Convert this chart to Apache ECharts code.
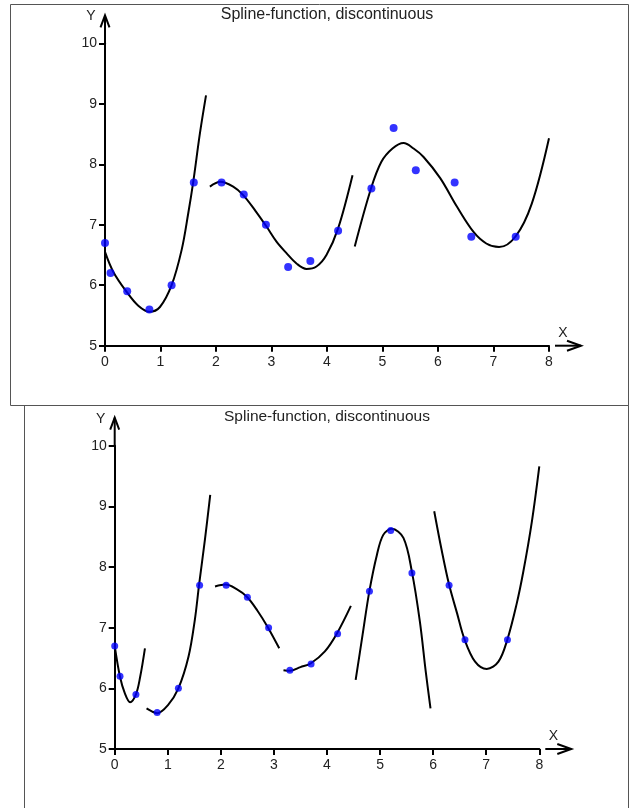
<!DOCTYPE html>
<html>
<head>
<meta charset="utf-8">
<script src="https://cdn.jsdelivr.net/npm/echarts@6/dist/echarts.min.js"></script>
<style>
html,body{margin:0;padding:0;background:#fff;}
#chart{width:630px;height:808px;}
</style>
</head>
<body>
<div id="chart"></div>
<script>
// ---- data ----
const titleText = 'Spline-function, discontinuous';
const xTicks = [0, 1, 2, 3, 4, 5, 6, 7, 8];
const yTicks = [5, 6, 7, 8, 9, 10];
const xName = 'X';
const yName = 'Y';

const pointX = [0, 0.1, 0.4, 0.8, 1.2, 1.6, 2.1, 2.5, 2.9, 3.3, 3.7, 4.2, 4.8, 5.2, 5.6, 6.3, 6.6, 7.4];
const pointY = [6.7, 6.2, 5.9, 5.6, 6.0, 7.7, 7.7, 7.5, 7.0, 6.3, 6.4, 6.9, 7.6, 8.6, 7.9, 7.7, 6.8, 6.8];

// top panel spline pieces
const top1X = [0, 0.15, 0.39, 0.6, 0.8, 0.99, 1.2, 1.38, 1.5, 1.59, 1.71, 1.82];
const top1Y = [6.55, 6.22, 5.89, 5.66, 5.56, 5.64, 6.0, 6.58, 7.19, 7.71, 8.51, 9.14];
const top2X = [1.89, 2.08, 2.31, 2.49, 2.71, 2.91, 3.09, 3.27, 3.45, 3.63, 3.81, 3.99, 4.2, 4.46];
const top2Y = [7.63, 7.71, 7.63, 7.49, 7.23, 6.97, 6.72, 6.53, 6.36, 6.27, 6.31, 6.50, 6.94, 7.82];
const top3X = [4.5, 4.79, 4.98, 5.18, 5.38, 5.56, 5.74, 6.04, 6.34, 6.64, 6.87, 7.1, 7.4, 7.69, 8.0];
const top3Y = [6.64, 7.59, 8.04, 8.26, 8.35, 8.26, 8.12, 7.77, 7.30, 6.88, 6.69, 6.63, 6.81, 7.35, 8.43];

// bottom panel spline pieces
const botAX = [0, 0.1, 0.19, 0.29, 0.4, 0.48, 0.57];
const botAY = [6.70, 6.19, 5.92, 5.77, 5.90, 6.19, 6.66];
const botBX = [0.6, 0.7, 0.8, 1.0, 1.2, 1.39, 1.51, 1.59, 1.70, 1.80];
const botBY = [5.67, 5.62, 5.59, 5.72, 6.0, 6.52, 7.13, 7.71, 8.45, 9.19];
const botCX = [1.89, 2.09, 2.29, 2.49, 2.69, 2.89, 3.10];
const botCY = [7.68, 7.71, 7.64, 7.51, 7.28, 7.0, 6.66];
const botDX = [3.18, 3.3, 3.5, 3.69, 3.96, 4.19, 4.45];
const botDY = [6.30, 6.29, 6.35, 6.41, 6.61, 6.91, 7.36];
const botEX = [4.54, 4.67, 4.8, 4.94, 5.06, 5.22, 5.44, 5.6, 5.75, 5.86, 5.95];
const botEY = [6.14, 6.88, 7.61, 8.20, 8.53, 8.63, 8.48, 7.92, 7.10, 6.28, 5.67];
const botFX = [6.02, 6.16, 6.30, 6.45, 6.59, 6.79, 7.01, 7.23, 7.40, 7.57, 7.70, 7.86, 8.0];
const botFY = [8.92, 8.28, 7.71, 7.24, 6.81, 6.44, 6.32, 6.44, 6.81, 7.38, 7.93, 8.75, 9.66];

// ---- chart ----
const FONT = '"Liberation Sans", Arial, sans-serif';
const pairs = (xs, ys) => xs.map((x, i) => [x, ys[i]]);
const xMin = xTicks[0], xMax = xTicks[xTicks.length - 1];
const yMin = yTicks[0], yMax = yTicks[yTicks.length - 1];

function makeX(gi) {
  return {
    type: 'value', gridIndex: gi, min: xMin, max: xMax, interval: 1,
    axisLine: { show: true, onZero: false, lineStyle: { color: '#000', width: 2 } },
    axisTick: { show: true, length: 6, lineStyle: { color: '#000', width: 2 } },
    axisLabel: { fontSize: 14, color: '#222', margin: 9, fontFamily: FONT },
    splitLine: { show: false }
  };
}
function makeY(gi) {
  return {
    type: 'value', gridIndex: gi, min: yMin, max: yMax, interval: 1,
    axisLine: { show: true, onZero: false, lineStyle: { color: '#000', width: 2 } },
    axisTick: { show: true, length: 6, lineStyle: { color: '#000', width: 2 } },
    axisLabel: { fontSize: 14, color: '#222', margin: 8, fontFamily: FONT },
    splitLine: { show: false }
  };
}
function curve(gi, xs, ys) {
  return {
    type: 'line', xAxisIndex: gi, yAxisIndex: gi, data: pairs(xs, ys),
    smooth: 0.35, showSymbol: false, silent: true, clip: false,
    lineStyle: { color: '#000', width: 2 }, z: 3
  };
}
function dots(gi, size) {
  return {
    type: 'scatter', xAxisIndex: gi, yAxisIndex: gi, data: pairs(pointX, pointY),
    symbolSize: size, itemStyle: { color: '#0000ff' }, silent: true, z: 5
  };
}
function arrows(gi) {
  return {
    type: 'custom', xAxisIndex: gi, yAxisIndex: gi, data: [[xMax, yMin]], silent: true, z: 4,
    renderItem: function (params, api) {
      const ex = api.coord([xMax, yMin]);
      const ey = api.coord([xMin, yMax]);
      const sty = { stroke: '#000', lineWidth: 2, fill: null };
      const tipX = ex[0] + 32, tipY = ey[1] - 28;
      return {
        type: 'group',
        children: [
          { type: 'line', shape: { x1: ex[0] + 6, y1: ex[1], x2: tipX, y2: ex[1] }, style: sty },
          { type: 'polyline', shape: { points: [[tipX - 14, ex[1] - 5], [tipX, ex[1]], [tipX - 14, ex[1] + 5]] }, style: sty },
          { type: 'line', shape: { x1: ey[0], y1: ey[1], x2: ey[0], y2: tipY }, style: sty },
          { type: 'polyline', shape: { points: [[ey[0] - 4.5, tipY + 12], [ey[0], tipY], [ey[0] + 4.5, tipY + 12]] }, style: sty },
          { type: 'text', x: ex[0] + 14, y: ex[1] - 13, style: { text: xName, fill: '#222', font: '14px ' + FONT, align: 'center', verticalAlign: 'middle' } },
          { type: 'text', x: ey[0] - 14, y: ey[1] - 27, style: { text: yName, fill: '#222', font: '14px ' + FONT, align: 'center', verticalAlign: 'middle' } }
        ]
      };
    }
  };
}

const chart = echarts.init(document.getElementById('chart'), null, { renderer: 'canvas', width: 630, height: 808 });
chart.setOption({
  backgroundColor: '#fff',
  animation: false,
  textStyle: { fontFamily: FONT },
  graphic: [
    { type: 'rect', shape: { x: 10.5, y: 4.5, width: 618, height: 401 }, style: { fill: null, stroke: '#555', lineWidth: 1 }, silent: true },
    { type: 'rect', shape: { x: 24.5, y: 405.5, width: 604, height: 420 }, style: { fill: null, stroke: '#555', lineWidth: 1 }, silent: true },
    { type: 'text', x: 327, y: 15, style: { text: titleText, fill: '#222', font: '16px ' + FONT, align: 'center', verticalAlign: 'middle' }, silent: true },
    { type: 'text', x: 327, y: 417, style: { text: titleText, fill: '#222', font: '15.5px ' + FONT, align: 'center', verticalAlign: 'middle' }, silent: true }
  ],
  grid: [
    { left: 105, top: 43.3, width: 444, height: 302.4 },
    { left: 114.7, top: 445.7, width: 424.6, height: 303.3 }
  ],
  xAxis: [makeX(0), makeX(1)],
  yAxis: [makeY(0), makeY(1)],
  series: [
    curve(0, top1X, top1Y), curve(0, top2X, top2Y), curve(0, top3X, top3Y),
    dots(0, 8), arrows(0),
    curve(1, botAX, botAY), curve(1, botBX, botBY), curve(1, botCX, botCY),
    curve(1, botDX, botDY), curve(1, botEX, botEY), curve(1, botFX, botFY),
    dots(1, 7), arrows(1)
  ]
});
</script>
</body>
</html>
